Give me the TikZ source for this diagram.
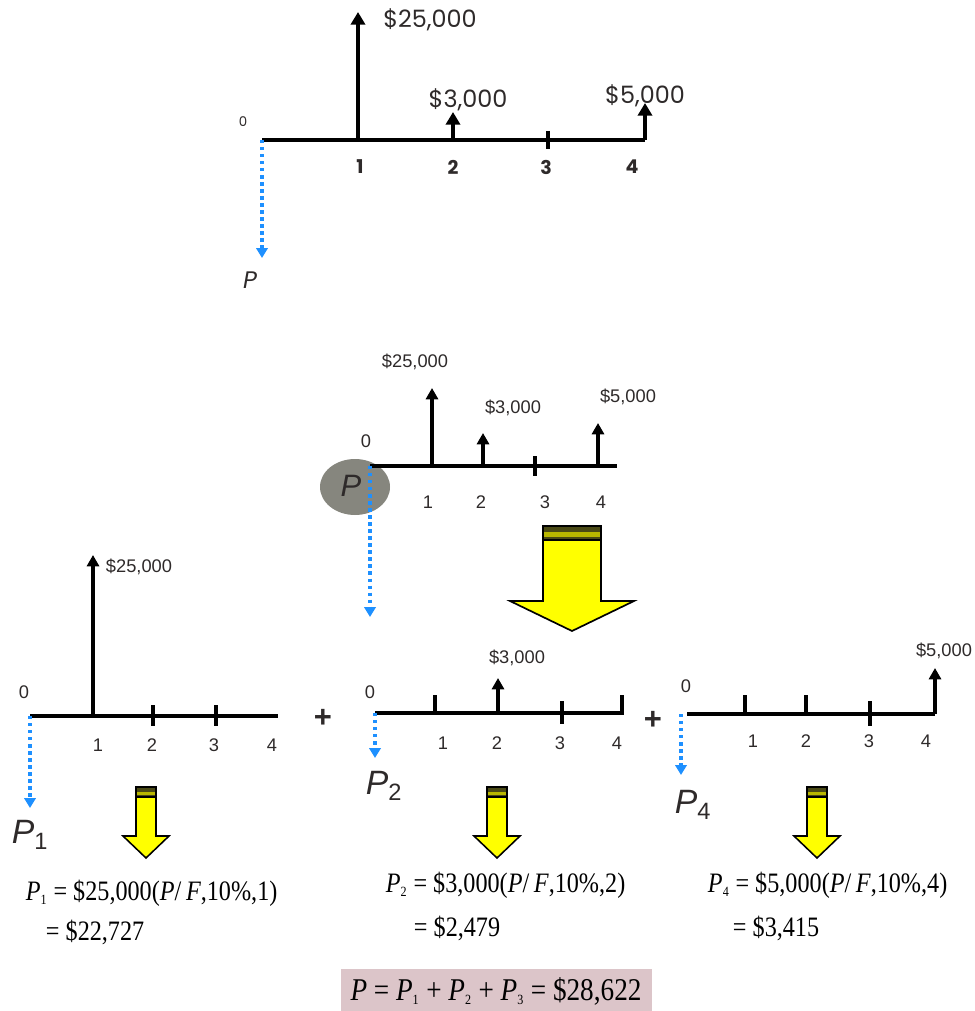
\documentclass[tikz,border=0pt]{standalone}
\usepackage{fontspec}
\setmainfont{Liberation Serif}
\setsansfont{Liberation Sans}
\newfontfamily\gothic{Poppins}
\newfontfamily\ecfont[FakeStretch=0.86]{Liberation Serif}
\usepackage{xcolor}
\usepackage{tikz}
\usetikzlibrary{arrows.meta}

\definecolor{flujo}{HTML}{1E90FF}
\definecolor{amarillo}{HTML}{FFFF00}
\definecolor{oliva}{HTML}{4A4915}
\definecolor{olivaclara}{HTML}{B9B700}
\definecolor{sombra}{HTML}{86867E}
\definecolor{rosa}{HTML}{DCC5C9}
\definecolor{tinta}{HTML}{2E2A2A}

\newcommand{\sub}[1]{\textsubscript{\fontsize{10}{10}\selectfont #1}}

\tikzset{
  ejeA/.style={line width=2.9pt},
  flechaA/.style={line width=2.9pt, -{Triangle[width=10pt,length=9pt]}},
  eje/.style={line width=2.5pt},
  flecha/.style={line width=2.5pt, -{Triangle[width=8.5pt,length=8pt]}},
  puntos/.style={flujo, line width=2.4pt, dash pattern=on 2.4pt off 2.6pt,
    -{Triangle[width=8pt,length=7pt]}},
  cifraA/.style={text=tinta, font=\gothic\fontsize{17}{17}\selectfont},
  numA/.style={text=tinta, font=\gothic\bfseries\fontsize{13.5}{13.5}\selectfont},
  cifra/.style={text=tinta, font=\sffamily\fontsize{13}{13}\selectfont},
  grande/.style={text=tinta, font=\sffamily\itshape\fontsize{24}{24}\selectfont},
  mas/.style={text=tinta, font=\sffamily\bfseries\fontsize{22}{22}\selectfont},
  ecuacion/.style={anchor=west, text=black, font=\ecfont\fontsize{20}{20}\selectfont},
}

\begin{document}
\begin{tikzpicture}[x=0.025cm, y=-0.025cm]
  \useasboundingbox (0,0) rectangle (974,1011);

  % Diagrama de flujo original
  \coordinate (a0) at (262,140);
  \coordinate (a1) at (358,140);
  \coordinate (a2) at (453,140);
  \coordinate (a3) at (548,140);
  \coordinate (a4) at (645,140);
  \draw[ejeA] (a0) -- (a4);
  \draw[flechaA] (a1) -- ++(0,-128);
  \draw[flechaA] (a2) -- ++(0,-28);
  \draw[ejeA] (a3) ++(0,-9) -- ++(0,18);
  \draw[flechaA] (a4) -- ++(0,-37);
  \draw[puntos] (a0) -- ++(0,118) coordinate (aP);
  \node[cifraA] (fa1) at (430,20) {\$25,000};
  \node[cifraA] (fa2) at (468,100) {\$3,000};
  \node[cifraA] (fa4) at (645,96) {\$5,000};
  \node[text=tinta, font=\gothic\fontsize{9.5}{9.5}\selectfont] (na0) at (243,122) {0};
  \node[numA] (na1) at (360,167) {1};
  \node[numA] (na2) at (453,167) {2};
  \node[numA] (na3) at (546,167) {3};
  \node[numA] (na4) at (632,167) {4};
  \node[text=tinta, font=\gothic\itshape\fontsize{17}{17}\selectfont] (pa) at (250,280) {P};

  % Diagrama del centro
  \coordinate (b0) at (370,466);
  \coordinate (b1) at (432,466);
  \coordinate (b2) at (483,466);
  \coordinate (b3) at (535,466);
  \coordinate (b4) at (598,466);
  \coordinate (bf) at (617,466);
  \fill[sombra] (355,487) ellipse (35 and 28);
  \draw[eje] (b0) -- (bf);
  \draw[flecha] (b1) -- ++(0,-78);
  \draw[flecha] (b2) -- ++(0,-33);
  \draw[eje] (b3) ++(0,-10) -- ++(0,20);
  \draw[flecha] (b4) -- ++(0,-43);
  \draw[puntos] (b0) -- ++(0,151);
  \node[text=tinta, font=\sffamily\itshape\fontsize{22}{22}\selectfont] (pb) at (351,486) {P};
  \node[cifra] (fb1) at (415,362) {\$25,000};
  \node[cifra] (fb2) at (513,408) {\$3,000};
  \node[cifra] (fb4) at (628,397) {\$5,000};
  \node[cifra] (nb0) at (366,441) {0};
  \node[cifra] (nb1) at (428,502) {1};
  \node[cifra] (nb2) at (481,502) {2};
  \node[cifra] (nb3) at (545,502) {3};
  \node[cifra] (nb4) at (601,502) {4};

  % Flecha amarilla grande
  \filldraw[fill=amarillo, line width=1.2pt, line join=miter]
    (543,526) -- (601,526) -- (601,601) -- (634,601) -- (572,631)
    -- (510,601) -- (543,601) -- cycle;
  \fill[oliva] (543,526) rectangle (601,532);
  \fill[olivaclara] (543,532) rectangle (601,537);
  \fill[oliva] (543,537) rectangle (601,540);
  \draw[line width=1.2pt] (543,526) rectangle (601,540);

  % Flujo 1
  \coordinate (c0) at (30,716);
  \coordinate (c1) at (93,716);
  \coordinate (c2) at (153,716);
  \coordinate (c3) at (216,716);
  \coordinate (cf) at (278,716);
  \draw[eje] (c0) -- (cf);
  \draw[flecha] (c1) -- ++(0,-161);
  \draw[eje] (c2) ++(0,-11) -- ++(0,21);
  \draw[eje] (c3) ++(0,-11) -- ++(0,21);
  \draw[puntos] (c0) -- ++(0,92);
  \node[cifra] (fc1) at (139,567) {\$25,000};
  \node[cifra] (nc0) at (24,692) {0};
  \node[cifra] (nc1) at (98,745) {1};
  \node[cifra] (nc2) at (152,745) {2};
  \node[cifra] (nc3) at (214,745) {3};
  \node[cifra] (nc4) at (272,745) {4};
  \node[grande] (p1) at (30,835) {P\textsubscript{\upshape 1}};
  \node[mas] (mas1) at (323,718) {+};

  % Flujo 2
  \coordinate (d0) at (375,713);
  \coordinate (d1) at (435,713);
  \coordinate (d2) at (498,713);
  \coordinate (d3) at (562,713);
  \coordinate (df) at (622,713);
  \draw[eje] (d0) -- (df) -- ++(0,-18);
  \draw[eje] (d1) -- ++(0,-18);
  \draw[flecha] (d2) -- ++(0,-35);
  \draw[eje] (d3) ++(0,-12) -- ++(0,23);
  \draw[puntos] (d0) -- ++(0,45);
  \node[cifra] (fd2) at (517,658) {\$3,000};
  \node[cifra] (nd0) at (370,692) {0};
  \node[cifra] (nd1) at (443,743) {1};
  \node[cifra] (nd2) at (497,743) {2};
  \node[cifra] (nd3) at (560,743) {3};
  \node[cifra] (nd4) at (617,743) {4};
  \node[grande] (p2) at (384,786) {P\textsubscript{\upshape 2}};
  \node[mas] (mas2) at (653,720) {+};

  % Flujo 4
  \coordinate (e0) at (687,714);
  \coordinate (e1) at (745,714);
  \coordinate (e2) at (806,714);
  \coordinate (e3) at (870,714);
  \coordinate (e4) at (935,714);
  \coordinate (eP) at (681,714);
  \draw[eje] (e0) -- (e4);
  \draw[eje] (e1) -- ++(0,-19);
  \draw[eje] (e2) -- ++(0,-19);
  \draw[eje] (e3) ++(0,-13) -- ++(0,25);
  \draw[flecha] (e4) -- ++(0,-46);
  \draw[puntos] (eP) -- ++(0,61);
  \node[cifra] (fe4) at (944,651) {\$5,000};
  \node[cifra] (ne0) at (686,686) {0};
  \node[cifra] (ne1) at (753,741) {1};
  \node[cifra] (ne2) at (806,741) {2};
  \node[cifra] (ne3) at (869,741) {3};
  \node[cifra] (ne4) at (926,741) {4};
  \node[grande] (p4) at (693,805) {P\textsubscript{\upshape 4}};

  % Flechas amarillas chicas
  \foreach \c in {146,497,817} {
    \filldraw[fill=amarillo, line width=1.1pt, line join=miter]
      (\c-10,787) -- (\c+10,787) -- (\c+10,836) -- (\c+23,836) -- (\c,858)
      -- (\c-23,836) -- (\c-10,836) -- cycle;
    \fill[oliva] (\c-10,787) rectangle (\c+10,792);
    \fill[olivaclara] (\c-10,792) rectangle (\c+10,795);
    \fill[oliva] (\c-10,795) rectangle (\c+10,797);
    \draw[line width=1.1pt] (\c-10,787) rectangle (\c+10,797);
  }

  % Ecuaciones
  \node[ecuacion] (ec1) at (21,893)
    {\textit{P}\sub{1} = \$25,000(\textit{P}/\,\textit{F},10\%,1)};
  \node[ecuacion] (ec1b) at (41,932) {= \$22,727};
  \node[ecuacion] (ec2) at (381,885)
    {\textit{P}\sub{2} = \$3,000(\textit{P}/\,\textit{F},10\%,2)};
  \node[ecuacion] (ec2b) at (409,928) {= \$2,479};
  \node[ecuacion] (ec4) at (703,885)
    {\textit{P}\sub{4} = \$5,000(\textit{P}/\,\textit{F},10\%,4)};
  \node[ecuacion] (ec4b) at (728,928) {= \$3,415};

  % Total
  \fill[rosa] (341,969) rectangle (652,1011);
  \node[text=black, font=\ecfont\fontsize{22.5}{22.5}\selectfont] (total) at (496,991)
    {\textit{P} = \textit{P}\sub{1} + \textit{P}\sub{2} + \textit{P}\sub{3} = \$28,622};
\end{tikzpicture}
\end{document}
